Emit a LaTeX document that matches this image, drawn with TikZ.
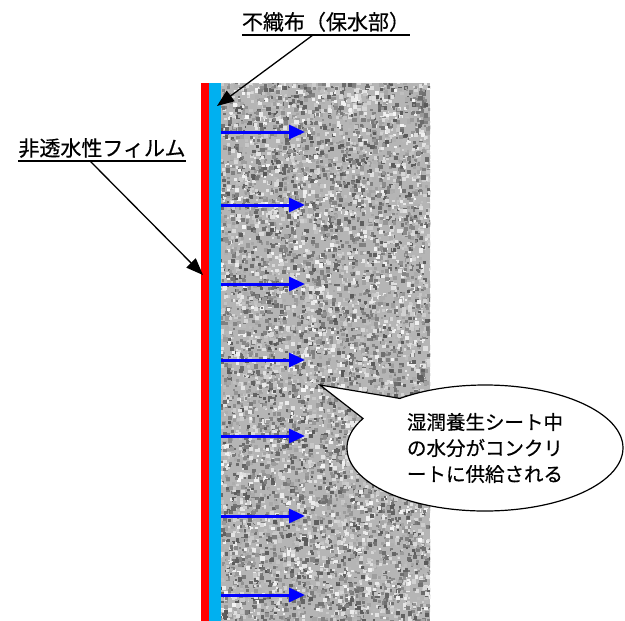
\documentclass[tikz,border=0pt]{standalone}
\usepackage{fontspec}
\setmainfont{Noto Sans CJK JP}[FakeBold=0.5]
\usetikzlibrary{arrows.meta,shapes.callouts}
\definecolor{filmred}{RGB}{255,0,0}
\definecolor{clothblue}{RGB}{0,176,240}
\definecolor{flowblue}{RGB}{0,0,255}
\tikzset{
  label/.style={inner sep=0pt, font=\fontsize{21}{24}\selectfont},
  leader/.style={draw=black, line width=1.3pt, -{Triangle[length=17pt,width=13pt]}},
  flow/.style={draw=flowblue, line width=3pt, -{Triangle[length=16pt,width=14pt]}},
}
\begin{document}
\begin{tikzpicture}[x=1pt,y=-1pt]
\useasboundingbox (0,0) rectangle (625,621);
% concrete texture
\begin{scope}
  \clip (221,83) rectangle (430,621);
  \fill[black!29] (221,83) rectangle (430,621);
  \pgfmathsetseed{7}
  \foreach \i in {1,...,9000}{
    \pgfmathsetmacro\xx{219+213*rnd}
    \pgfmathsetmacro\yy{81+542*rnd}
    \pgfmathtruncatemacro\g{4+62*rnd}
    \pgfmathsetmacro\r{2.0+2.4*rnd}
    \fill[black!\g!white] (\xx,\yy) rectangle ++(\r,\r);
  }
\end{scope}
% film and cloth
\fill[filmred] (201,83) rectangle (209,621);
\fill[clothblue] (209,83) rectangle (221,621);
% flow arrows
\foreach \k/\y in {1/132,2/205,3/284,4/360,5/436,6/516,7/595}{
  \coordinate (fs\k) at (221,\y);
  \coordinate (fe\k) at (305,\y);
  \draw[flow] (fs\k) -- (fe\k);
}
% labels
\node[label, anchor=south] (cloth) at (326,32) {不織布（保水部）};
\draw[line width=1.6pt] ([yshift=-3pt]cloth.south west) -- ([yshift=-3pt]cloth.south east);
\coordinate (clothtip) at (217,106);
\coordinate (clothfoot) at (313,35);
\draw[leader] (clothfoot) -- (clothtip);

\node[label, anchor=south] (film) at (102,158) {非透水性フィルム};
\draw[line width=1.6pt] ([yshift=-3pt]film.south west) -- ([yshift=-3pt]film.south east);
\coordinate (filmfoot) at (90,161);
\coordinate (filmtip) at (203,275);
\draw[leader] (filmfoot) -- (filmtip);

% callout
\node[ellipse callout, draw=black, line width=1.2pt, fill=white,
      minimum width=276pt, minimum height=126pt,
      callout absolute pointer={(320,385)}, callout pointer arc=24,
      align=left, font=\fontsize{19.5}{26}\selectfont, inner sep=0pt]
  (note) at (485,448) {湿潤養生シート中\\の水分がコンクリ\\ートに供給される};
\end{tikzpicture}
\end{document}
